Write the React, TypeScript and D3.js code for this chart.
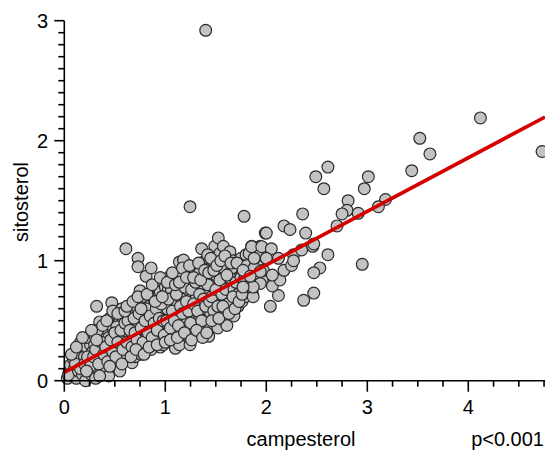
import React from "react";
import * as d3 from "d3";

// campesterol (x), sitosterol (y)
const densePoints: [number, number][] = [
  [0.03,0.02],[0.05,0.08],[0.08,0.04],[0.06,0.13],[0.1,0.1],[0.12,0.02],[0.09,0.18],[0.04,0.05],
  [0.14,0.08],[0.15,0.16],[0.17,0.25],[0.13,0.22],[0.18,0.05],[0.19,0.12],[0.2,0.2],[0.16,0.32],[0.21,0.0],[0.22,0.28],
  [0.24,0.1],[0.25,0.18],[0.27,0.05],[0.26,0.3],[0.28,0.24],[0.29,0.14],[0.23,0.36],[0.3,0.38],[0.31,0.02],[0.3,0.3],
  [0.32,0.62],[0.33,0.1],[0.34,0.2],[0.35,0.49],[0.36,0.28],[0.37,0.38],[0.38,0.06],[0.39,0.15],[0.4,0.44],[0.4,0.32],[0.33,0.42],[0.36,0.24],
  [0.42,0.1],[0.43,0.22],[0.44,0.36],[0.45,0.52],[0.46,0.28],[0.47,0.65],[0.48,0.16],[0.49,0.42],[0.5,0.32],[0.47,0.46],[0.44,0.04],[0.5,0.56],
  [0.52,0.12],[0.53,0.24],[0.54,0.38],[0.55,0.5],[0.56,0.3],[0.57,0.6],[0.58,0.18],[0.59,0.44],[0.6,0.35],[0.55,0.08],[0.58,0.52],[0.52,0.45],
  [0.61,1.1],[0.62,0.22],[0.63,0.4],[0.64,0.55],[0.65,0.3],[0.66,0.62],[0.67,0.15],[0.68,0.48],[0.69,0.36],[0.7,0.58],[0.64,0.26],[0.7,0.2],
  [0.72,0.44],[0.73,1.02],[0.73,0.95],[0.74,0.3],[0.75,0.75],[0.75,0.52],[0.76,0.22],[0.77,0.64],[0.78,0.4],[0.79,0.56],[0.8,0.28],[0.8,0.7],[0.71,0.62],[0.77,0.48],
  [0.81,0.87],[0.82,0.36],[0.83,0.5],[0.84,0.62],[0.85,0.73],[0.86,0.94],[0.86,0.26],[0.87,0.44],[0.88,0.56],[0.89,0.68],[0.9,0.34],[0.9,0.78],[0.84,0.42],[0.88,0.3],
  [0.91,0.5],[0.92,0.62],[0.93,0.4],[0.94,0.72],[0.95,0.74],[0.95,0.28],[0.96,0.84],[0.97,0.56],[0.98,0.3],[0.99,0.46],[1.0,0.66],[0.93,0.58],[0.97,0.36],[1.0,0.78],
  [1.02,0.4],[1.03,0.76],[1.04,0.52],[1.045,0.87],[1.05,0.62],[1.06,0.76],[1.07,0.32],[1.08,0.46],[1.09,0.7],[1.1,0.27],[1.1,0.56],[1.02,0.6],[1.06,0.38],[1.08,0.82],
  [1.12,0.64],[1.13,0.755],[1.14,0.99],[1.15,0.42],[1.16,0.52],[1.17,0.84],[1.18,1.005],[1.19,0.34],[1.2,0.6],[1.2,0.72],[1.14,0.3],[1.18,0.46],[1.12,0.88],[1.16,0.68],
  [1.22,0.5],[1.23,0.8],[1.245,0.84],[1.245,0.3],[1.25,0.66],[1.26,0.4],[1.27,0.9],[1.28,0.56],[1.29,0.74],[1.3,0.46],[1.3,0.62],[1.24,0.36],[1.27,0.7],[1.22,0.92],
  [1.32,0.82],[1.33,0.38],[1.34,0.54],[1.35,0.96],[1.36,1.1],[1.36,0.66],[1.37,0.44],[1.38,0.99],[1.38,0.76],[1.39,0.6],[1.4,0.86],[1.34,0.9],[1.4,0.5],[1.31,0.7],
  [1.42,0.72],[1.43,0.37],[1.44,0.94],[1.45,0.56],[1.46,0.8],[1.47,1.0],[1.48,0.48],[1.49,1.12],[1.49,0.66],[1.5,0.88],[1.44,0.44],[1.47,0.62],[1.42,1.05],
  [1.52,0.44],[1.525,1.19],[1.53,0.76],[1.54,1.06],[1.55,0.58],[1.56,0.92],[1.575,1.12],[1.58,0.5],[1.59,0.82],[1.6,0.98],[1.6,0.66],[1.54,0.68],[1.57,0.86],
  [1.61,0.46],[1.62,0.72],[1.63,0.9],[1.64,1.075],[1.65,0.58],[1.66,0.8],[1.67,1.0],[1.68,0.54],[1.69,0.68],[1.7,0.92],[1.66,0.62],[1.63,0.78],
  [1.72,0.62],[1.73,0.86],[1.74,0.74],[1.75,1.02],[1.76,0.66],[1.77,0.78],[1.78,0.92],[1.79,0.7],[1.8,1.05],[1.74,0.96],
  [1.82,0.82],[1.84,0.94],[1.855,1.12],[1.86,0.74],[1.87,1.03],[1.88,0.86],[1.9,0.98],[1.83,1.06],
  [1.92,0.9],[1.94,1.12],[1.96,0.84],[1.98,1.04],[1.99,1.23],
];

const corePoints: [number, number][] = [
  [0.11,0.14],[0.16,0.1],[0.2,0.14],[0.23,0.2],[0.26,0.12],[0.29,0.2],[0.31,0.26],[0.34,0.14],[0.37,0.32],[0.39,0.22],[0.41,0.28],[0.43,0.16],[0.46,0.34],[0.48,0.24],[0.5,0.4],[0.51,0.2],
  [0.53,0.32],[0.56,0.42],[0.58,0.26],[0.6,0.48],[0.62,0.32],[0.63,0.5],[0.65,0.42],[0.67,0.28],[0.69,0.52],[0.7,0.4],[0.72,0.34],[0.74,0.56],[0.76,0.44],[0.78,0.32],[0.8,0.5],[0.81,0.6],[0.83,0.4],[0.85,0.54],[0.87,0.36],[0.89,0.48],[0.91,0.6],[0.92,0.42],[0.94,0.52],[0.96,0.64],[0.98,0.5],[0.99,0.38],
  [1.01,0.5],[1.03,0.68],[1.05,0.44],[1.07,0.58],[1.09,0.5],[1.11,0.72],[1.13,0.46],[1.15,0.62],[1.17,0.56],[1.19,0.78],[1.21,0.66],[1.23,0.58],[1.25,0.48],[1.26,0.76],[1.28,0.64],[1.3,0.82],[1.32,0.58],[1.34,0.72],[1.36,0.5],[1.38,0.68],[1.4,0.62],[1.42,0.8],[1.44,0.66],[1.46,0.7],[1.48,0.58],[1.5,0.76],
  [1.52,0.62],[1.54,0.84],[1.56,0.72],[1.58,0.94],[1.6,0.76],[1.62,0.64],[1.64,0.86],[1.66,0.94],[1.68,0.76],[1.7,0.82],[1.72,0.72],[1.75,0.86],[1.77,0.94],[1.8,0.8],[1.83,0.9],[1.86,0.96],[1.9,0.86],[1.95,0.98],
];

const fillPoints: [number, number][] = [
  [0.07,0.22],[0.12,0.28],[0.18,0.36],[0.22,0.08],[0.27,0.42],[0.32,0.34],[0.35,0.04],[0.38,0.46],[0.42,0.5],[0.45,0.12],
  [0.48,0.58],[0.53,0.56],[0.57,0.14],[0.6,0.58],[0.62,0.62],[0.66,0.2],[0.68,0.66],[0.71,0.26],[0.73,0.7],[0.76,0.6],
  [0.79,0.22],[0.82,0.72],[0.84,0.28],[0.87,0.8],[0.9,0.66],[0.92,0.3],[0.95,0.86],[0.97,0.7],[1.0,0.32],[1.02,0.82],
  [1.05,0.34],[1.07,0.9],[1.1,0.8],[1.12,0.36],[1.14,0.82],[1.17,0.94],[1.19,0.4],[1.21,0.86],[1.24,0.96],[1.26,0.34],
  [1.28,0.86],[1.31,0.42],[1.33,0.98],[1.35,0.84],[1.37,0.36],[1.39,0.92],[1.41,0.4],[1.43,0.9],[1.45,1.02],[1.46,0.5],
  [1.48,0.92],[1.51,0.96],[1.53,0.52],[1.55,1.0],[1.57,0.62],[1.59,1.04],[1.61,0.88],[1.63,0.56],[1.65,0.98],[1.67,0.7],
  [1.69,0.6],[1.71,0.98],[1.73,0.66],[1.76,0.72],[1.78,0.84],[1.81,0.96],[1.85,0.82],[1.88,0.94],[1.91,1.04],[1.97,0.92],
];

const sparsePoints: [number, number][] = [
  [1.40,2.92],[4.12,2.19],[4.73,1.91],[3.52,2.02],[3.62,1.89],[3.44,1.75],[3.18,1.51],
  [2.61,1.78],[2.49,1.70],[2.57,1.60],[3.01,1.70],[2.97,1.60],[2.81,1.50],[2.80,1.42],[2.75,1.39],[2.91,1.395],[3.11,1.45],
  [1.245,1.45],[1.78,1.37],[2.36,1.39],
  [2.00,1.23],[2.175,1.29],[2.235,1.26],[2.39,1.23],[2.70,1.29],
  [1.855,1.117],[1.955,1.117],[2.05,1.10],[1.88,1.02],[2.00,1.02],[2.12,1.02],[2.27,1.05],[2.35,1.09],[2.46,1.12],[2.47,1.14],[2.61,1.05],
  [2.95,0.97],[2.53,0.94],[2.47,0.90],[2.47,0.73],[2.37,0.67],[2.04,0.62],[2.12,0.71],[1.87,0.70],[2.06,0.79],[2.135,0.84],[2.175,0.92],[2.25,0.96],[2.27,1.00],
  [2.06,0.88],[1.94,0.81],[1.87,0.78],[1.77,0.78],[1.77,0.92],[1.94,0.91],[1.84,0.87],
];

const xTickValues = [0, 1, 2, 3, 4];
const yTickValues = [0, 1, 2, 3];
const fitIntercept = 0.07;
const fitSlope = 0.447;
const xLabel = "campesterol";
const yLabel = "sitosterol";
const pLabel = "p<0.001";

export default function App() {
  const x = d3.scaleLinear().domain([0, 4]).range([64.3, 468.3]);
  const y = d3.scaleLinear().domain([0, 3]).range([380.7, 20.7]);
  const xEnd = 4.76;
  const xMinor = d3.range(0, xEnd + 1e-9, 0.25);
  const yMinor = d3.range(0, 3.0001, 0.1);
  const allPoints = [...densePoints, ...corePoints, ...fillPoints, ...sparsePoints];
  const line = d3.line<number>().x((d) => x(d)).y((d) => y(fitIntercept + fitSlope * d));
  const font = "'Liberation Sans', Arial, Helvetica, sans-serif";

  return (
    <svg width={545} height={453} style={{ position: "absolute", left: 0, top: 0, background: "#fff" }}>
      <g>
        {allPoints.map((p, i) => (
          <circle key={i} cx={x(p[0])} cy={y(p[1])} r={5.9} fill="#c3c3c3" stroke="#2a2a2a" strokeWidth={1.2} />
        ))}
      </g>
      <path d={line([0, xEnd]) || ""} stroke="#d40000" strokeWidth={3.6} fill="none" />
      <line x1={x(0)} x2={x(xEnd) + 1} y1={y(0)} y2={y(0)} stroke="#000" strokeWidth={1.6} />
      <line x1={x(0)} x2={x(0)} y1={y(0)} y2={y(3)} stroke="#000" strokeWidth={1.6} />
      {xMinor.map((v, i) => (
        <line key={"xm" + i} x1={x(v)} x2={x(v)} y1={y(0)} y2={y(0) + (Math.abs(v - Math.round(v)) < 1e-6 ? 11 : 6)} stroke="#000" strokeWidth={1.6} />
      ))}
      {yMinor.map((v, i) => (
        <line key={"ym" + i} x1={x(0)} x2={x(0) - (Math.abs(v - Math.round(v)) < 1e-6 ? 10 : 6)} y1={y(v)} y2={y(v)} stroke="#000" strokeWidth={1.6} />
      ))}
      {xTickValues.map((v) => (
        <text key={"xt" + v} x={x(v)} y={413.5} textAnchor="middle" fontFamily={font} fontSize={20} fill="#000">{v}</text>
      ))}
      {yTickValues.map((v) => (
        <text key={"yt" + v} x={48} y={y(v) + 7} textAnchor="end" fontFamily={font} fontSize={20} fill="#000">{v}</text>
      ))}
      <text x={301} y={446} textAnchor="middle" fontFamily={font} fontSize={20} fill="#000">{xLabel}</text>
      <text x={544} y={446} textAnchor="end" fontFamily={font} fontSize={20} fill="#000">{pLabel}</text>
      <text transform="translate(27.5,202) rotate(-90)" textAnchor="middle" fontFamily={font} fontSize={20} fill="#000">{yLabel}</text>
    </svg>
  );
}
